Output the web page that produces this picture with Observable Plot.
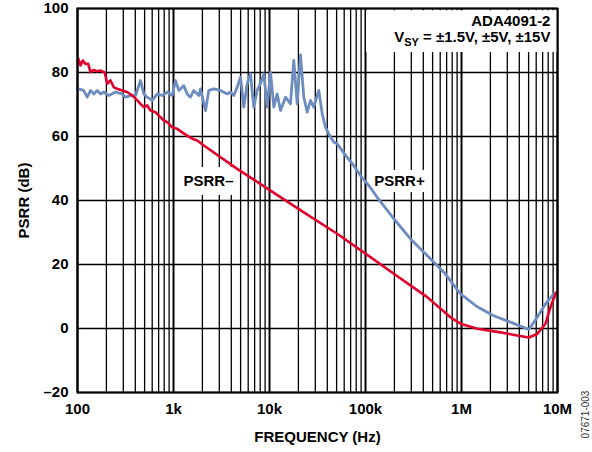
<!DOCTYPE html>
<html><head><meta charset="utf-8">
<script src="https://cdn.jsdelivr.net/npm/d3@7"></script>
<script src="https://cdn.jsdelivr.net/npm/@observablehq/plot@0.6"></script>
<style>body{margin:0;background:#fff}</style>
</head><body><div id="chart"></div>
<script>
const xTicks = [100, 1e3, 1e4, 1e5, 1e6, 1e7];
const xTickLabels = ["100", "1k", "10k", "100k", "1M", "10M"];
const yTicks = [-20, 0, 20, 40, 60, 80, 100];
const yTickLabels = ["–20", "0", "20", "40", "60", "80", "100"];

const psrrPlusFreq = [102,116,126,137,148,160,174,188,212,249,292,316,357,402,453,491,532,600,677,763,860,969,1049,1135,1280,1390,1503,1627,1834,1911,2154,2333,2630,3090,3625,3926,4250,4608,4988,5400,5858,6340,6863,7443,8054,8730,9462,10240,11090,12020,13020,14680,16550,17910,19430,21030,22770,24700,26730,28920,32620,35400,38310,41470,46770,50700,61900,75500,88700,112700,132400,197200,294300,439300,654400,977000,1457000,2168000,3237000,5025000,6150000,7500000,9155000,10000000];
const psrrPlusDb = [74.9,74.4,72.3,74.4,73.3,74.4,73.3,73.9,72.8,73.9,73.3,72.3,72.8,72.8,77.5,73.3,72.3,71.3,73.3,72.8,73.9,72.8,77.5,74.4,75.9,73.3,72.3,74.4,72.8,74.9,68.1,74.4,74.9,74.4,73.3,73.9,72.8,75.4,78.5,69.2,76.5,79.6,69.2,74.4,76.5,79.6,69.2,80.1,69.2,73.3,68.1,72.3,70.2,83.8,70.2,85.5,72.3,67.6,71.3,69.2,74.4,67.1,62.9,60.8,58.2,57.7,54.2,50.9,47.8,44.0,41.0,34.3,28.0,22.8,17.6,10.8,6.8,4.0,2.0,-0.3,3.5,7.7,10.8,11.5];

const psrrMinusFreq = [102,107.5,113.6,121.2,129.3,136.6,147.8,160.4,173.6,192.3,203.9,220.7,238.8,259.2,292.2,329.4,371.5,402,453,490.6,532.1,576,649.4,732.3,792.5,859.5,968.5,1093,1232,1390,1566,1766,2069,4608,10240,22770,50700,112700,197200,439300,767400,977000,1457000,2547000,3802000,5025000,6150000,7500000,8450000,9530000,10000000];
const psrrMinusDb = [84.3,82.2,83.75,82.7,82.7,80.1,80.8,80.4,80.6,80.0,76.5,77.5,75.4,74.9,74.4,73.9,72.8,71.9,70.2,69.2,69.7,68.1,67.6,66.0,65.0,64.5,62.9,62.4,61.3,60.3,59.3,58.75,57.2,49.9,43.1,36.3,29.6,22.3,17.1,9.8,3.5,1.5,-0.1,-1.2,-2.2,-2.8,-1.7,1.5,6.7,10.8,11.5];

const seriesLabels = ["PSRR–", "PSRR+"];
const seriesLabelFreq = [2315, 226000];
const seriesLabelDb = [45.9, 46.0];
const noteLines = ["ADA4091-2", "VSY = ±1.5V, ±5V, ±15V"];
const noteDb = [96.1, 90.9];
const noteFreq = 8.45e6;
const xTitle = "FREQUENCY (Hz)";
const yTitle = "PSRR (dB)";
const figId = "07671-003";

// annotation boxes (data space)
const boxes = [
  {x1: 1127, x2: 4642, y1: 41.6, y2: 50.3},
  {x1: 112700, x2: 442600, y1: 42.5, y2: 49.4},
  {x1: 102400, x2: 1e7, y1: 86.25, y2: 99.3}
];

const plus = psrrPlusFreq.map((f, i) => ({f, v: psrrPlusDb[i]}));
const minus = psrrMinusFreq.map((f, i) => ({f, v: psrrMinusDb[i]}));
const minorGrid = [];
for (const d of [100, 1e3, 1e4, 1e5, 1e6]) for (let k = 2; k <= 9; k++) minorGrid.push(d * k);
const labels = seriesLabels.map((t, i) => ({t, f: seriesLabelFreq[i], v: seriesLabelDb[i]}));
const notes = noteLines.map((t, i) => ({t, f: noteFreq, v: noteDb[i]}));

const font = "'Liberation Sans', Arial, Helvetica, sans-serif";
const svg = Plot.plot({
  width: 592, height: 452,
  marginLeft: 77, marginRight: 35, marginTop: 8, marginBottom: 60,
  style: {fontFamily: font, fontSize: "14px", fontWeight: "bold", color: "black", background: "white"},
  x: {type: "log", domain: [100, 1e7]},
  y: {domain: [-20, 100]},
  marks: [
    Plot.ruleX(minorGrid, {stroke: "black", strokeWidth: 1.3}),
    Plot.ruleX(xTicks, {stroke: "black", strokeWidth: 2}),
    Plot.ruleY(yTicks, {stroke: "black", strokeWidth: 1.6}),
    Plot.rect(boxes, {x1: "x1", x2: "x2", y1: "y1", y2: "y2", fill: "white"}),
    Plot.line(plus, {x: "f", y: "v", stroke: "#6d8cbf", strokeWidth: 2.8}),
    Plot.line(minus, {x: "f", y: "v", stroke: "#e2002c", strokeWidth: 2.6}),
    Plot.frame({stroke: "black", strokeWidth: 2}),
    Plot.axisX({ticks: xTicks, tickFormat: d => xTickLabels[xTicks.indexOf(d)], tickSize: 0, tickPadding: 11, label: null, fontSize: 15}),
    Plot.axisY({ticks: yTicks, tickFormat: d => yTickLabels[yTicks.indexOf(d)], tickSize: 0, tickPadding: 9, label: null, fontSize: 15}),
    Plot.text(labels, {x: "f", y: "v", text: "t", fontSize: 15, fill: "black"}),
    Plot.text(notes, {x: "f", y: "v", text: "t", textAnchor: "end", fontSize: 15, fill: "black"}),
    Plot.text([xTitle], {frameAnchor: "bottom", dy: 45, text: d => d, fontSize: 15, textAnchor: "middle", lineAnchor: "middle"}),
    Plot.text([yTitle], {frameAnchor: "left", dx: -53, rotate: -90, text: d => d, fontSize: 15, textAnchor: "middle", lineAnchor: "middle"}),
    Plot.text([figId], {frameAnchor: "bottom-right", dx: 28, dy: 22, rotate: -90, text: d => d, fontSize: 10, fontWeight: "normal", fill: "#333", textAnchor: "middle", lineAnchor: "middle"})
  ]
});
document.getElementById("chart").appendChild(svg);

// subscript "SY"
d3.select(svg).selectAll("text").filter(function () { return this.textContent === noteLines[1]; })
  .each(function () {
    const t = d3.select(this);
    t.text(null);
    t.append("tspan").text("V");
    t.append("tspan").attr("font-size", "11px").attr("dy", "3.5").text("SY");
    t.append("tspan").attr("dy", "-3.5").text(" = ±1.5V, ±5V, ±15V");
  });
</script>
</body></html>
